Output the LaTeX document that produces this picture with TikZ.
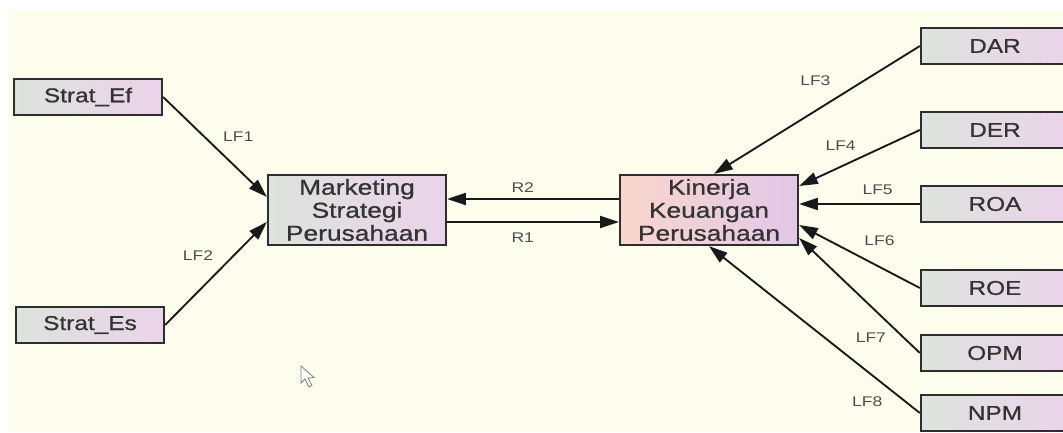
\documentclass[tikz,border=0pt]{standalone}
\usepackage{fontspec}
\setmainfont[FakeStretch=1.25]{Liberation Sans}
\newfontfamily\boxfont[FakeStretch=1.22,FakeBold=0.8]{Liberation Sans}
\usetikzlibrary{arrows.meta,positioning}
\definecolor{paper}{HTML}{FDFDEE}
\definecolor{boxgray}{HTML}{DDE3DD}
\definecolor{boxpink}{HTML}{EBD3EA}
\definecolor{boxpeach}{HTML}{F8D6CB}
\definecolor{boxlilac}{HTML}{E2C8E9}
\definecolor{rim}{HTML}{2E2E2E}
\tikzset{>={Triangle[length=14pt,width=9pt]}, % big filled heads
every edge/.style={draw, ->, black!90, line width=1.4pt}, % directed edges
var/.style={draw=rim, line width=1.7pt, minimum width=111pt, minimum height=27pt, inner sep=0pt, left color=boxgray, right color=boxpink, text=black!80, font=\boxfont\fontsize{15}{17}\selectfont}, % observed indicator
lat/.style={var, minimum width=133.5pt, minimum height=52.5pt, align=center, font=\boxfont\fontsize{16.2}{17.25}\selectfont}, % latent construct
lbl/.style={font=\fontsize{10.5}{12}\selectfont, text=black!70, inner sep=1.5pt},
}
\begin{document}
\begin{tikzpicture}[x=0.75pt,y=-0.75pt]
\useasboundingbox (0,0) rectangle (1063,432);
\fill[white] (0,0) rectangle (1063,432);
\fill[paper] (8,10) rectangle (1063,432);

\node[var] (sef) at (88,97) {Strat\_Ef};
\node[var] (ses) at (90,325) {Strat\_Es};
\node[lat] (msp) at (357,210) {Marketing\\Strategi\\Perusahaan};
\node[lat, left color=boxpeach, right color=boxlilac] (kkp) at (709,210) {Kinerja\\Keuangan\\Perusahaan};

\node[var] (dar) at (995,46) {DAR};
\node[var] (der) at (995,130) {DER};
\node[var] (roa) at (995,204) {ROA};
\node[var] (roe) at (995,288) {ROE};
\node[var] (opm) at (995,353) {OPM};
\node[var] (npm) at (995,413) {NPM};

\path
(sef.east) edge node[lbl, pos=.55, above right, yshift=6pt] {LF1} ([yshift=9.75pt]msp.west)
(ses.east) edge node[lbl, pos=.5, above left, yshift=7.5pt] {LF2} ([yshift=-9pt]msp.west)
([yshift=8.25pt]kkp.west) edge node[lbl, pos=.56, above, yshift=3pt] {R2} ([yshift=8.25pt]msp.east)
([yshift=-9pt]msp.east) edge node[lbl, pos=.44, below, yshift=-6pt] {R1} ([yshift=-9pt]kkp.west)
(dar.west) edge node[lbl, pos=.42, above left, yshift=8pt] {LF3} ([xshift=3.75pt]kkp.north)
(der.west) edge node[lbl, pos=.59, above, xshift=-6pt, yshift=7.5pt] {LF4} ([yshift=18pt]kkp.east)
(roa.west) edge node[lbl, pos=.35, above, yshift=4.5pt] {LF5} ([yshift=4.5pt]kkp.east)
(roe.west) edge node[lbl, pos=.45, above right, xshift=-3pt, yshift=8pt] {LF6} ([yshift=-11.25pt]kkp.east)
(opm.west) edge node[lbl, pos=.29, below left, xshift=3pt, yshift=-8pt] {LF7} ([yshift=-21pt]kkp.east)
(npm.west) edge node[lbl, pos=.24, below left, xshift=12pt, yshift=-16pt] {LF8} (kkp.south);

% mouse pointer
\draw[gray, line width=.6pt, fill=white] (301,366) -- (301,383) -- (305,379) -- (309,387) -- (312,385.5) -- (308,378) -- (314,377.5) -- cycle;
\end{tikzpicture}
\end{document}
